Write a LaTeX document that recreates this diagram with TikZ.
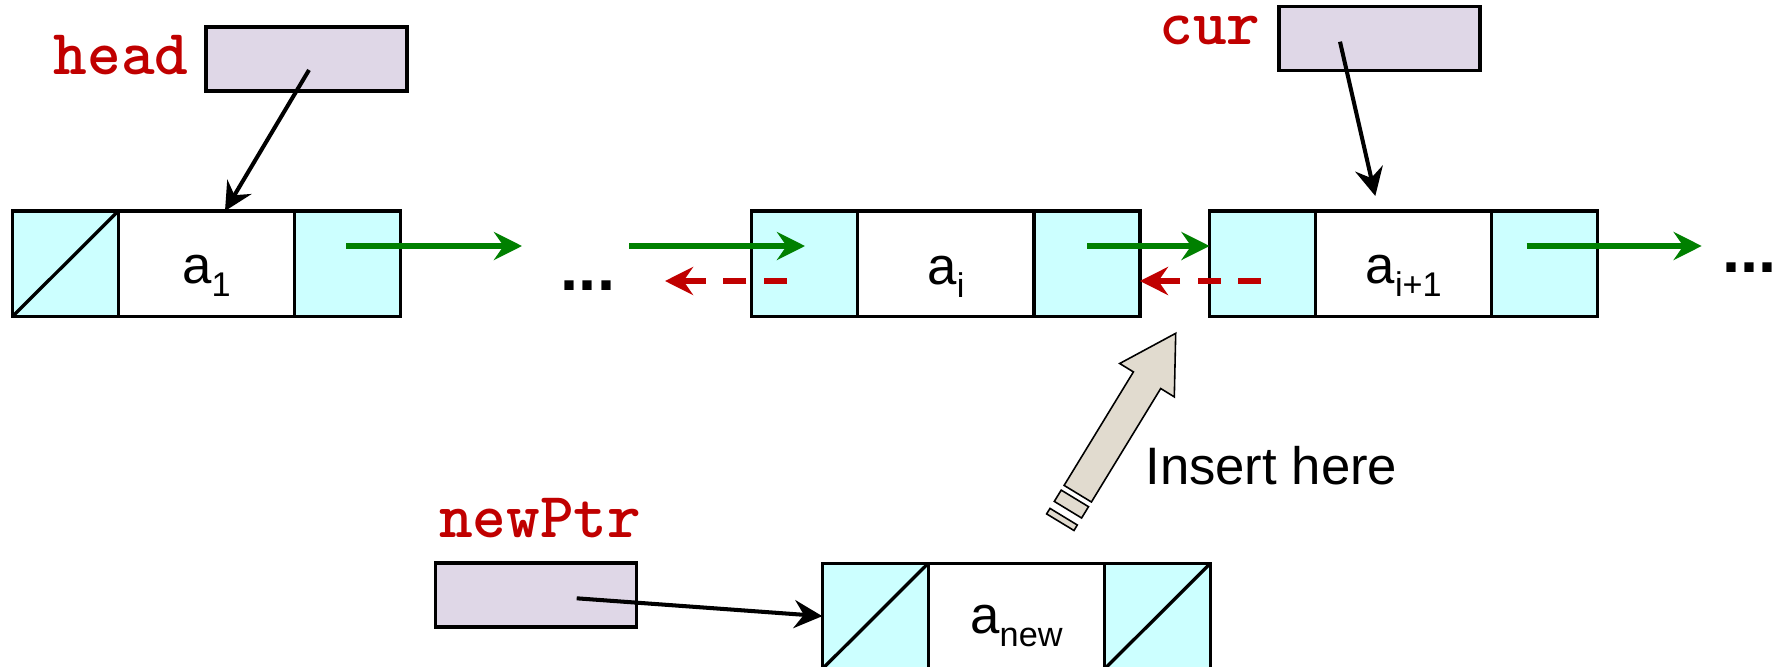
\documentclass[tikz,border=0pt]{standalone}
\usepackage{fontspec}
\setmainfont{Liberation Sans}
\usetikzlibrary{arrows.meta,calc}

\definecolor{cellcyan}{HTML}{CCFFFF}
\definecolor{ptrfill}{HTML}{DFD7E7}
\definecolor{codered}{HTML}{C00000}
\definecolor{linkgreen}{HTML}{008000}
\definecolor{hintfill}{HTML}{E1DBCF}

% one drawing unit
\newcommand{\pxu}{0.02cm}
% list element value with its index
\newcommand{\elem}[1]{a\raisebox{-7.4pt}{\fontsize{19.5pt}{20pt}\selectfont #1}}

\begin{document}
\begin{tikzpicture}[x=0.02cm, y=-0.02cm,
  cell/.style={draw, line width=1.9pt, fill=cellcyan, minimum width=106*\pxu,
    minimum height=105.7*\pxu, inner sep=0pt, outer sep=0pt},
  datacell/.style={cell, fill=white, minimum width=176.4*\pxu},
  ptrbox/.style={draw, line width=2pt, fill=ptrfill, minimum width=201*\pxu,
    minimum height=64*\pxu, inner sep=0pt, outer sep=0pt},
  code/.style={font=\ttfamily\bfseries\fontsize{36.5pt}{40pt}\selectfont,
    text=codered, anchor=base, inner sep=0pt},
  val/.style={font=\fontsize{30pt}{34pt}\selectfont, anchor=base, inner sep=0pt},
  dots/.style={font=\bfseries\fontsize{37pt}{40pt}\selectfont, anchor=base, inner sep=0pt},
  tipshape/.style={-{Stealth[length=16pt,width=16pt,inset=5.5pt]}},
  ptr/.style={tipshape, draw=black, line width=2.3pt},
  nextlink/.style={tipshape, draw=linkgreen, line width=3pt},
  prevlink/.style={tipshape, draw=codered, line width=3pt, dash pattern=on 13pt off 10pt},
  slash/.style={line width=1.9pt},
  hint/.style={draw=black, line width=0.9pt, fill=hintfill, line join=miter}
]
\useasboundingbox (0,0) rectangle (1781,666);

% first element
\node[cell]     (n1l) at (65.3,263.85) {};
\node[datacell] (n1m) at (206.5,263.85) {};
\node[cell]     (n1r) at (347.7,263.85) {};
\draw[slash] (n1l.south west) -- (n1l.north east);
\node[val] (v1) at (206.5,283.5) {\elem{1}};

% element i
\node[cell]     (n2l) at (804.7,263.85) {};
\node[datacell] (n2m) at (945.9,263.85) {};
\node[cell]     (n2r) at (1086.9,263.85) {};
\node[val] (v2) at (945.9,284) {\elem{i}};

% element i+1
\node[cell]     (n3l) at (1262.5,263.85) {};
\node[datacell] (n3m) at (1403.7,263.85) {};
\node[cell]     (n3r) at (1544.7,263.85) {};
\node[val] (v3) at (1403.7,283.5) {\elem{i+1}};

% new element
\node[cell]     (nnl) at (875.3,616.15) {};
\node[datacell] (nnm) at (1016.5,616.15) {};
\node[cell]     (nnr) at (1157.5,616.15) {};
\draw[slash] (nnl.south west) -- (nnl.north east);
\draw[slash] (nnr.south west) -- (nnr.north east);
\node[val] (vn) at (1016.5,633.3) {\elem{new}};

% ellipses
\node[dots] (d1) at (588,290) {...};
\node[dots] (d2) at (1749.5,272.7) {...};

% pointer variables
\node[code] (headlbl) at (121,74) {head};
\node[ptrbox] (head) at (306.6,59.2) {};
\node[code] (curlbl) at (1210,44.3) {cur};
\node[ptrbox] (cur) at (1379.7,38.3) {};
\node[code] (newlbl) at (540.3,537.3) {newPtr};
\node[ptrbox] (newptr) at (535.8,595) {};

\coordinate (headsrc) at (309,70);
\coordinate (cursrc) at (1340,41.7);
\coordinate (newsrc) at (576.7,598.3);
\draw[ptr] (headsrc) -- ($(n1m.north)+(18.5,0)$);
\draw[ptr] (cursrc) -- ($(n3m.north)+(-28.4,-15)$);
\draw[ptr] (newsrc) -- (nnl.west);

% next links
\coordinate (g1s) at (346.4,246);
\coordinate (g1e) at (522,246);
\coordinate (g2s) at (629,246);
\coordinate (g2e) at (805,246);
\coordinate (g3s) at (1087.3,246);
\coordinate (g4s) at (1526.7,246);
\coordinate (g4e) at (1701.7,246);
\draw[nextlink] (g1s) -- (g1e);
\draw[nextlink] (g2s) -- (g2e);
\draw[nextlink] (g3s) -- (g3s -| n3l.west);
\draw[nextlink] (g4s) -- (g4e);

% previous links
\coordinate (r1s) at (786.7,281);
\coordinate (r1e) at (665,281);
\coordinate (r2s) at (1261,281);
\draw[prevlink] (r1s) -- (r1e);
\draw[prevlink] (r2s) -- (r2s -| n2r.east);

% insertion hint arrow
\draw[hint] (1175.7,333.3) -- (1174.3,396.9) -- (1160.7,388.5) -- (1091.4,502.0)
  -- (1064.1,485.4) -- (1133.4,371.9) -- (1119.7,363.5) -- cycle;
\draw[hint] (1061.2,490.1) -- (1088.5,506.7) -- (1081.6,518.0) -- (1054.3,501.4) -- cycle;
\draw[hint] (1050.0,508.4) -- (1077.3,525.0) -- (1074.0,530.5) -- (1046.6,513.9) -- cycle;
\node[val, anchor=base west] (hinttxt) at (1145,484) {Insert here};
\end{tikzpicture}
\end{document}
